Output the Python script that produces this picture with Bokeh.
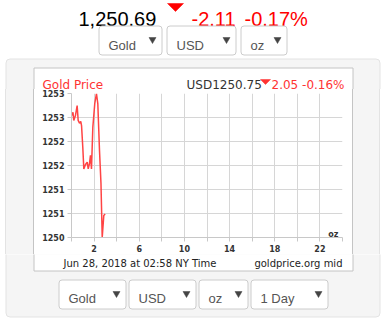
from bokeh.plotting import figure
from bokeh.layouts import column, row
from bokeh.models import Range1d, FixedTicker, Label, Spacer
from bokeh.core.properties import value
from bokeh.embed import file_html
from bokeh.resources import INLINE

# ---------------- data ----------------
hours = [0.06, 0.13, 0.20, 0.35, 0.50, 0.59, 0.71, 0.82, 0.89, 1.00, 1.09, 1.24, 1.39,
         1.48, 1.59, 1.68, 1.77, 1.89, 2.06, 2.21, 2.33, 2.48, 2.61, 2.72, 2.86, 2.98]
prices = [1252.54, 1252.61, 1252.44, 1252.54, 1252.75, 1252.44, 1252.38, 1252.42, 1252.33,
          1251.88, 1251.43, 1251.52, 1251.57, 1251.43, 1251.54, 1251.71, 1251.43, 1252.30,
          1252.79, 1253.00, 1252.79, 1251.81, 1251.13, 1250.00, 1250.46, 1250.49]

x_ticks = [0, 2, 4, 6, 8, 10, 12, 14, 16, 18, 20, 22, 24]
x_tick_labels = ["", "2", "", "6", "", "10", "", "14", "", "18", "", "22", ""]
y_ticks = [1250, 1250.5, 1251, 1251.5, 1252, 1252.5, 1253]
y_tick_labels = ["1250", "1251", "1251", "1252", "1252", "1253", "1253"]

header_price = "1,250.69"
header_change = "-2.11"
header_pct = "-0.17%"
chart_title = "Gold Price"
chart_quote = "USD1250.75"
chart_change = "2.05"
chart_pct = "-0.16%"
timestamp = "Jun 28, 2018 at 02:58 NY Time"
source_note = "goldprice.org mid"
unit_note = "oz"
top_selects = ["Gold", "USD", "oz"]
bottom_selects = ["Gold", "USD", "oz", "1 Day"]

# ---------------- page layout (pixel positions) ----------------
W, H = 391, 321
Y_TOP, Y_BOT = 89, 254          # chart strip between these rows
X_LEFT, X_RIGHT = 34, 352       # chart strip between these columns
RED = "#ff0000"
CHART_RED = "#ff3333"
GRAY = "#f5f5f5"
WELL_LINE = "#e3e3e3"
BOX_LINE = "#c4c4c4"
HEAD_BASE = 84


def canvas(x0, x1, y0, y1):
    f = figure(width=x1 - x0, height=y1 - y0, x_range=Range1d(x0, x1), y_range=Range1d(y1, y0),
               x_axis_type=None, y_axis_type=None, min_border=0, title=None,
               output_backend="svg", toolbar_location=None, margin=(0, 0, 0, 0))
    f.outline_line_color = None
    f.background_fill_color = "white"
    f.border_fill_color = "white"
    f.grid.visible = False
    # gray well with rounded corners
    f.quad(left=[5.5], right=[379.5], top=[58.5], bottom=[316.5], fill_color=GRAY,
           line_color=WELL_LINE, line_width=1, border_radius=4)
    # white chart box
    f.quad(left=[33.5], right=[352.5], top=[67.5], bottom=[270.5], fill_color="white",
           line_color=BOX_LINE, line_width=1)
    return f


def txt(f, x, y, s, font, size, color, align="left", style="normal"):
    f.text(x=[x], y=[y], text=[s], text_font=value(font), text_font_size=value(size),
           text_color=color, text_align=align, text_baseline="alphabetic",
           text_font_style=style)


def selects(f, boxes, labels, top, bottom, base, ay):
    for (l, r), s in zip(boxes, labels):
        f.quad(left=[l + 0.5], right=[r + 0.5], top=[top + 0.5], bottom=[bottom + 0.5],
               fill_color="white", line_color="#cccccc", line_width=1, border_radius=3)
        txt(f, l + 10, base, s, "Liberation Sans", "13px", "#555555")
        cx = r - 9
        f.patch([cx - 3.5, cx + 3.5, cx], [ay, ay, ay + 6], fill_color="#444444",
                line_color="#444444", line_width=0.5)


top = canvas(0, W, 0, Y_TOP)
bottom = canvas(0, W, Y_BOT, H)

# header (top strip)
txt(top, 78, 18, header_price, "Liberation Sans", "20px", "black")
top.patch([167, 183, 175], [3, 3, 11], fill_color=RED, line_color=RED, line_width=0.5)
txt(top, 191, 18, header_change, "Liberation Sans", "20px", RED)
txt(top, 244, 18, header_pct, "Liberation Sans", "20px", RED)
selects(top, [(98, 161), (166, 235), (240, 286)], top_selects, 25, 54, 45, 37)

# chart heading (top strip)
txt(top, 42, HEAD_BASE, chart_title, "DejaVu Sans", "12px", CHART_RED)
txt(top, 186, HEAD_BASE, chart_quote, "DejaVu Sans", "12px", "#333333")
top.patch([260, 270, 265], [HEAD_BASE - 5, HEAD_BASE - 5, HEAD_BASE],
          fill_color=CHART_RED, line_color=CHART_RED, line_width=0.5)
txt(top, 271, HEAD_BASE, chart_change, "DejaVu Sans", "12px", CHART_RED)
txt(top, 344, HEAD_BASE, chart_pct, "DejaVu Sans", "12px", CHART_RED, align="right")

# footer (bottom strip)
txt(bottom, 63, 263, timestamp, "DejaVu Sans", "10px", "#222222")
txt(bottom, 342, 263, source_note, "DejaVu Sans", "10px", "#222222", align="right")
selects(bottom, [(58, 125), (128, 195), (198, 247), (250, 327)], bottom_selects,
        279, 308, 298, 291)

# side strips of the gray well (plain CSS backgrounds, not plots)
left = Spacer(width=X_LEFT, height=Y_BOT - Y_TOP, margin=(0, 0, 0, 0), styles={
    "background": "linear-gradient(to right, #ffffff 0px, #ffffff 5px, "
                  f"{WELL_LINE} 5px, {WELL_LINE} 6px, {GRAY} 6px, {GRAY} 33px, "
                  f"{BOX_LINE} 33px, {BOX_LINE} 34px)"})
right = Spacer(width=W - X_RIGHT, height=Y_BOT - Y_TOP, margin=(0, 0, 0, 0), styles={
    "background": f"linear-gradient(to right, {BOX_LINE} 0px, {BOX_LINE} 1px, "
                  f"{GRAY} 1px, {GRAY} 27px, {WELL_LINE} 27px, {WELL_LINE} 28px, "
                  "#ffffff 28px, #ffffff 39px)"})

# ---------------- the chart ----------------
FL, FR, FT, FB = 71, 342, 93, 237    # plot frame edges on the page
p = figure(width=X_RIGHT - X_LEFT, height=Y_BOT - Y_TOP,
           x_range=Range1d(0, 24), y_range=Range1d(1250, 1253), title=None,
           min_border_left=FL - X_LEFT, min_border_right=X_RIGHT - FR,
           min_border_top=FT - Y_TOP, min_border_bottom=Y_BOT - FB,
           output_backend="svg", toolbar_location=None, margin=(0, 0, 0, 0))
p.background_fill_color = "white"
p.border_fill_color = "white"
p.outline_line_color = None

p.line(hours, prices, line_color="#ff4444", line_width=1.5)

p.add_layout(Label(x=338 - X_LEFT, y=233.5 - Y_TOP, x_units="canvas", y_units="canvas",
                   text=unit_note, text_font="DejaVu Sans", text_font_size="8px",
                   text_font_style="bold", text_color="#333333", text_align="right",
                   text_baseline="alphabetic"))

p.xaxis.ticker = FixedTicker(ticks=x_ticks, minor_ticks=[])
p.yaxis.ticker = FixedTicker(ticks=y_ticks, minor_ticks=[])
p.xaxis.major_label_overrides = {t: s for t, s in zip(x_ticks, x_tick_labels)}
p.yaxis.major_label_overrides = {t: s for t, s in zip(y_ticks, y_tick_labels)}
for ax in (p.xaxis[0], p.yaxis[0]):
    ax.axis_line_color = "#c8c8c8"
    ax.major_tick_line_color = "#c8c8c8"
    ax.major_tick_out = 4
    ax.major_tick_in = 0
    ax.minor_tick_line_color = None
    ax.major_label_text_font = "DejaVu Sans"
    ax.major_label_text_font_size = "8px"
    ax.major_label_text_font_style = "bold"
    ax.major_label_text_color = "#333333"
p.xaxis.major_label_standoff = 3
p.yaxis.major_label_standoff = 3
p.grid.grid_line_color = "#d6d6d6"
p.grid.grid_line_width = 1

mid = row(left, p, right, spacing=0, margin=(0, 0, 0, 0))
page = column(top, mid, bottom, spacing=0, margin=(0, 0, 0, 0),
              styles={"background-color": "#ffffff"})
open("out.html", "w").write(file_html(page, INLINE))
